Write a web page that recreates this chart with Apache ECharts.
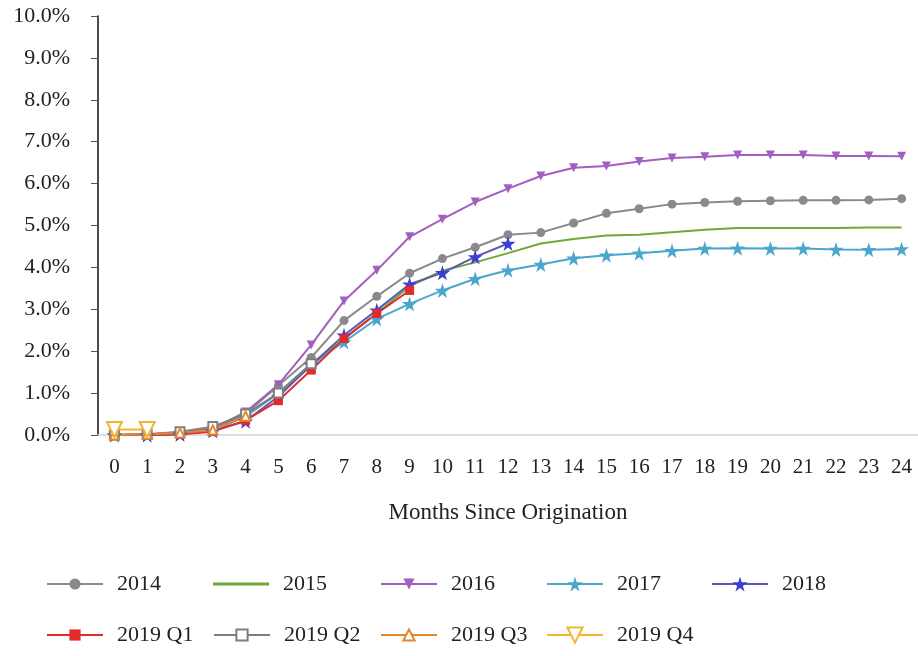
<!DOCTYPE html>
<html>
<head>
<meta charset="utf-8">
<script src="https://cdn.jsdelivr.net/npm/echarts@6/dist/echarts.min.js"></script>
<style>
  html, body { margin: 0; padding: 0; background: #fff; }
  #chart { width: 918px; height: 656px; }
</style>
</head>
<body>
<div id="chart"></div>
<script>
// months since origination
const months = ["0","1","2","3","4","5","6","7","8","9","10","11","12","13","14","15","16","17","18","19","20","21","22","23","24"];

// cumulative loss, percent
const s2014 = [0, 0.02, 0.05, 0.15, 0.5, 1.18, 1.85, 2.73, 3.31, 3.86, 4.21, 4.48, 4.78, 4.83, 5.06, 5.29, 5.40, 5.51, 5.55, 5.58, 5.59, 5.60, 5.60, 5.61, 5.64];
const s2015 = [0, 0.01, 0.03, 0.1, 0.45, 1.0, 1.65, 2.3, 2.9, 3.55, 3.92, 4.12, 4.34, 4.57, 4.68, 4.76, 4.78, 4.84, 4.90, 4.94, 4.94, 4.94, 4.94, 4.95, 4.95];
const s2016 = [0, 0.02, 0.05, 0.15, 0.55, 1.2, 2.15, 3.2, 3.93, 4.73, 5.15, 5.56, 5.88, 6.18, 6.38, 6.42, 6.53, 6.61, 6.64, 6.68, 6.68, 6.68, 6.66, 6.66, 6.65];
const s2017 = [0, 0, 0.02, 0.1, 0.45, 1.0, 1.7, 2.22, 2.77, 3.13, 3.45, 3.73, 3.93, 4.07, 4.22, 4.29, 4.34, 4.40, 4.45, 4.46, 4.45, 4.45, 4.43, 4.42, 4.44];
const s2018 = [0, 0, 0.02, 0.1, 0.33, 0.92, 1.67, 2.38, 2.98, 3.6, 3.87, 4.25, 4.57];
const s2019q1 = [0, 0, 0.02, 0.08, 0.35, 0.82, 1.55, 2.3, 2.9, 3.45];
const s2019q2 = [0, 0.02, 0.08, 0.2, 0.5, 1.0, 1.7];
const s2019q3 = [0, 0.02, 0.05, 0.12, 0.45];
const s2019q4 = [0.13, 0.13];

const yTicks = 10;
const font = 'Liberation Serif';

const STAR = 'path://M50,0 L61,35 L98,35 L68,57 L79,91 L50,70 L21,91 L32,57 L2,35 L39,35 Z';

const seriesDefs = [
  { name: '2014', data: s2014, color: '#8a8a8a', symbol: 'circle', size: 9 },
  { name: '2015', data: s2015, color: '#70a83a', symbol: 'none', size: 0 },
  { name: '2016', data: s2016, color: '#a25fc0', symbol: 'triangle', size: 9, rotate: 180 },
  { name: '2017', data: s2017, color: '#4aa6cc', symbol: STAR, size: 15, big: true },
  { name: '2018', data: s2018, color: '#3d3fd2', symbol: STAR, size: 15, line: '#5a5ab4', big: true },
  { name: '2019 Q1', data: s2019q1, color: '#e42a2a', symbol: 'rect', size: 9 },
  { name: '2019 Q2', data: s2019q2, color: '#7f7f7f', symbol: 'emptyRect', size: 9 },
  { name: '2019 Q3', data: s2019q3, color: '#e6862c', symbol: 'emptyTriangle', size: 9 },
  { name: '2019 Q4', data: s2019q4, color: '#f2b531', symbol: 'emptyTriangle', size: 15, rotate: 180, big: true }
];

const legendLeft = [41, 208, 375, 541, 706];
const legends = seriesDefs.map((d, i) => {
  const lg = {
    data: [d.name],
    left: legendLeft[i % 5],
    top: i < 5 ? 568 : 619,
    itemWidth: 56,
    itemHeight: d.big ? 19 : 14,
    textStyle: { fontFamily: font, fontSize: 22, color: '#222', padding: [0, 0, 0, 9] }
  };
  if (d.symbol === 'none') {
    // plain line, no marker
    lg.data = [{ name: d.name, icon: 'rect' }];
    lg.itemHeight = 3;
  }
  return lg;
});

const chart = echarts.init(document.getElementById('chart'));
chart.setOption({
  animation: false,
  legend: legends,
  grid: { left: 98, right: 0, top: 16, bottom: 221 },
  xAxis: {
    type: 'category',
    data: months,
    boundaryGap: true,
    name: 'Months Since Origination',
    nameLocation: 'middle',
    nameGap: 66,
    nameTextStyle: { fontFamily: font, fontSize: 23, color: '#222' },
    axisLine: { lineStyle: { color: '#d4d4d4', width: 1.5 } },
    axisTick: { alignWithLabel: true, length: 8, lineStyle: { color: '#555' } },
    axisLabel: { fontFamily: font, fontSize: 21, color: '#222', margin: 22 },
    splitLine: { show: false }
  },
  yAxis: {
    type: 'value',
    min: 0,
    max: yTicks,
    interval: 1,
    axisLine: { show: true, lineStyle: { color: '#111', width: 1.5 } },
    axisTick: { show: true, length: 7, lineStyle: { color: '#555' } },
    axisLabel: { fontFamily: font, fontSize: 22, color: '#222', margin: 28,
      formatter: v => v.toFixed(1) + '%' },
    splitLine: { show: false }
  },
  series: seriesDefs.map(d => ({
    name: d.name,
    type: 'line',
    data: d.data,
    symbol: d.symbol,
    symbolSize: d.size,
    symbolRotate: d.rotate || 0,
    showSymbol: d.symbol !== 'none',
    lineStyle: { color: d.line || d.color, width: 2 },
    itemStyle: { color: d.color, borderColor: d.color, borderWidth: d.symbol.indexOf('empty') === 0 ? 1.5 : 0 },
    emphasis: { disabled: true }
  }))
});
</script>
</body>
</html>
